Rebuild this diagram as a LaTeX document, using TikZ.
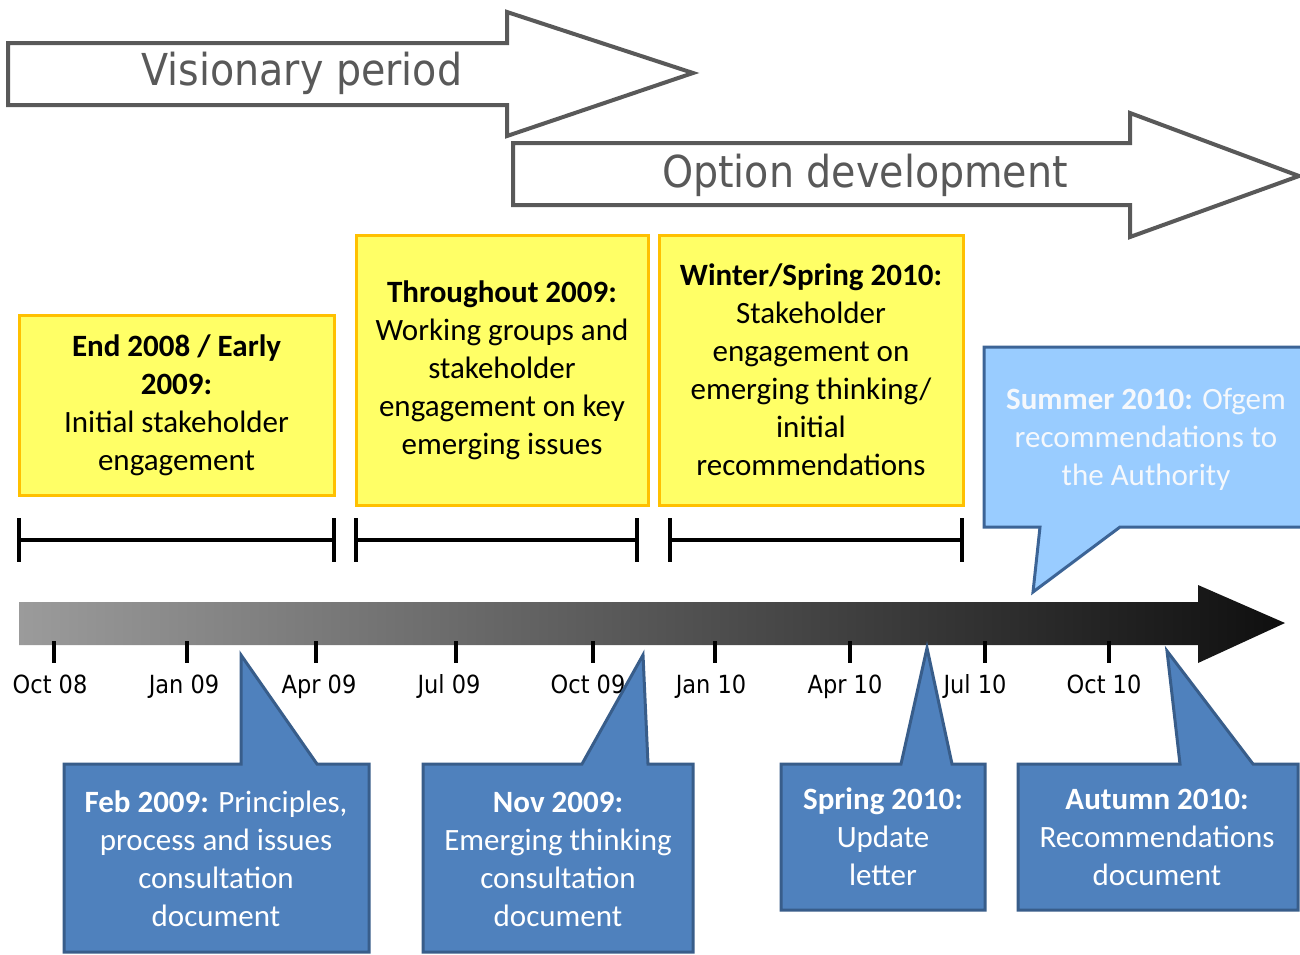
\documentclass[tikz,border=0pt]{standalone}
\usepackage{fontspec}
\setmainfont{Carlito}
\newfontfamily\tahoma{DejaVu Sans Condensed}
\definecolor{arrowgray}{RGB}{89,89,89}
\definecolor{boxyellow}{RGB}{255,255,102}
\definecolor{boxorange}{RGB}{255,192,0}
\definecolor{darkblue}{RGB}{79,129,189}
\definecolor{darkedge}{RGB}{56,93,138}
\definecolor{lightblue}{RGB}{153,204,255}
\definecolor{lightedge}{RGB}{60,100,150}
\definecolor{tlleft}{RGB}{155,155,155}
\definecolor{tlright}{RGB}{15,15,15}
\begin{document}
\begin{tikzpicture}[x=1pt,y=-1pt,
  bigarrow/.style={draw=arrowgray, line width=4pt, fill=white, line join=miter},
  arrowtext/.style={text=arrowgray, font=\tahoma\fontsize{44}{50}\selectfont, inner sep=0pt},
  yellowbox/.style={draw=boxorange, fill=boxyellow, line width=3pt, inner sep=0pt, align=center, text=black, font=\fontsize{31}{38}\selectfont},
  bar/.style={line width=3.5pt, black},
  tick/.style={line width=3.5pt, black},
  calldark/.style={draw=darkedge, fill=darkblue, line width=3pt, line join=miter},
  calllight/.style={draw=lightedge, fill=lightblue, line width=3pt, line join=miter},
  calltext/.style={align=center, text=white, font=\fontsize{31}{38}\selectfont, inner sep=0pt},
  ticklabel/.style={font=\tahoma\fontsize{25}{30}\selectfont, text=black, inner sep=0pt, anchor=base}]
\useasboundingbox (0,0) rectangle (1300,954);
\clip (0,0) rectangle (1300,954);
\fill[white] (0,0) rectangle (1300,954);

% big period arrows
\draw[bigarrow] (8,43) -- (507,43) -- (507,12) -- (693,73) -- (507,136) -- (507,105) -- (8,105) -- cycle;
\node[arrowtext] (vis) at (302,73) {Visionary period};
\draw[bigarrow] (513,143) -- (1130,143) -- (1130,113) -- (1299,176) -- (1130,237) -- (1130,205) -- (513,205) -- cycle;
\node[arrowtext] (opt) at (865,175) {Option development};

% yellow boxes
\node[yellowbox, minimum width=315pt, minimum height=180pt] (y1) at (176.5,405)
  {\textbf{End 2008 / Early}\\\textbf{2009:}\\Initial stakeholder\\engagement};
\node[yellowbox, minimum width=292pt, minimum height=270pt] (y2) at (502,370)
  {\textbf{Throughout 2009:}\\Working groups and\\stakeholder\\engagement on key\\emerging issues};
\node[yellowbox, minimum width=304pt, minimum height=270pt] (y3) at (811,370)
  {\textbf{Winter/Spring 2010:}\\Stakeholder\\engagement on\\emerging thinking/\\initial\\recommendations};

% interval bars
\foreach \l/\r in {19/334, 356/637, 670/962}{
  \draw[bar] (\l,540) -- (\r,540);
  \draw[bar] (\l,518) -- (\l,562);
  \draw[bar] (\r,518) -- (\r,562);
}

% timeline arrow
\shade[left color=tlleft, right color=tlright] (19,602) -- (1198,602) -- (1198,585) -- (1285,623) -- (1198,663) -- (1198,645) -- (19,645) -- cycle;
\foreach \x in {54, 187, 316, 456, 593, 715, 850, 985, 1109}{
  \draw[tick] (\x,641) -- (\x,663);
}
\node[ticklabel] (t1) at (50,693) {Oct 08};
\node[ticklabel] (t2) at (184,693) {Jan 09};
\node[ticklabel] (t3) at (319,693) {Apr 09};
\node[ticklabel] (t4) at (449,693) {Jul 09};
\node[ticklabel] (t5) at (588,693) {Oct 09};
\node[ticklabel] (t6) at (711,693) {Jan 10};
\node[ticklabel] (t7) at (845,693) {Apr 10};
\node[ticklabel] (t8) at (975,693) {Jul 10};
\node[ticklabel] (t9) at (1104,693) {Oct 10};

% summer callout
\draw[calllight] (984,347) -- (1306,347) -- (1306,527) -- (1120,527) -- (1033,592) -- (1040,527) -- (984,527) -- cycle;
\node[calltext, text={rgb,255:red,245;green,248;blue,252}] (summer) at (1146,439)
  {\textbf{Summer 2010:} Ofgem\\recommendations to\\the Authority};

% bottom callouts
\draw[calldark] (64,764) -- (241,764) -- (241,655) -- (317,764) -- (369,764) -- (369,952) -- (64,952) -- cycle;
\node[calltext] (feb) at (216,859) {\textbf{Feb 2009:} Principles,\\process and issues\\consultation\\document};

\draw[calldark] (423,764) -- (582,764) -- (643,655) -- (648,764) -- (693,764) -- (693,952) -- (423,952) -- cycle;
\node[calltext] (nov) at (558,859) {\textbf{Nov 2009:}\\Emerging thinking\\consultation\\document};

\draw[calldark] (781,764) -- (901,764) -- (927,648) -- (952,764) -- (985,764) -- (985,910) -- (781,910) -- cycle;
\node[calltext] (spring) at (883,837) {\textbf{Spring 2010:}\\Update\\letter};

\draw[calldark] (1018,764) -- (1180,764) -- (1167,651) -- (1253,764) -- (1298,764) -- (1298,910) -- (1018,910) -- cycle;
\node[calltext] (autumn) at (1157,837) {\textbf{Autumn 2010:}\\Recommendations\\document};
\end{tikzpicture}
\end{document}
